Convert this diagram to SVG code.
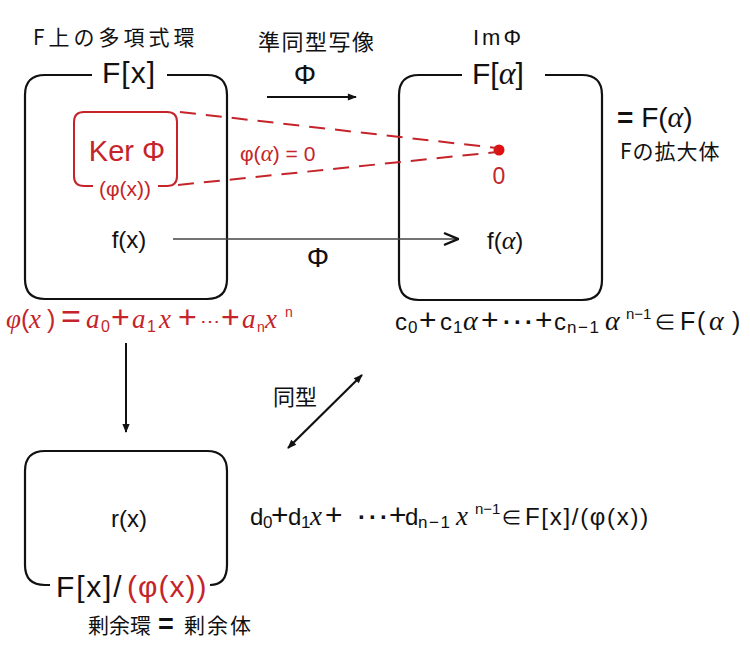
<svg xmlns="http://www.w3.org/2000/svg" width="750" height="650" viewBox="0 0 750 650">
<defs>
<style>
.t{font-family:"Liberation Sans","Noto Sans CJK JP",sans-serif;fill:#111}
.j{font-family:"Noto Sans CJK JP","Noto Sans CJK SC",sans-serif;fill:#111}
.m{font-family:"Liberation Serif","DejaVu Serif",serif;font-style:italic}
.up{font-family:"Liberation Sans",sans-serif;font-style:normal}
.red{fill:#c4242a}
.box{fill:none;stroke:#111;stroke-width:2.2}
.kbox{fill:none;stroke:#c4242a;stroke-width:2}
.dash{stroke:#c4242a;stroke-width:2;stroke-dasharray:16 10;fill:none}
</style>
<marker id="ah" viewBox="0 0 10 10" refX="9" refY="5" markerWidth="10" markerHeight="9" markerUnits="userSpaceOnUse" orient="auto-start-reverse">
<path d="M0,1 L10,5 L0,9 Z" fill="#111"/>
</marker>
<marker id="chev" viewBox="0 0 16 16" refX="15" refY="8" markerWidth="16" markerHeight="16" markerUnits="userSpaceOnUse" orient="auto">
<path d="M1,2 L15,8 L1,14" fill="none" stroke="#111" stroke-width="2.4"/>
</marker>
</defs>
<rect width="750" height="650" fill="#fff"/>

<g id="polyring">
<path class="box" d="M92,75 H45 Q25,75 25,95 V279 Q25,299 45,299 H207 Q227,299 227,279 V95 Q227,75 207,75 H167"/>
<text class="j" x="33" y="45" font-size="21" letter-spacing="4">F上の多項式環</text>
<text class="t" x="129" y="83" font-size="30" letter-spacing="1" text-anchor="middle">F[x]</text>
<text class="t" x="129" y="248" font-size="24" text-anchor="middle">f(x)</text>
<text class="m red" y="328" font-size="27"><tspan x="6">φ</tspan><tspan x="21" class="up" font-size="25">(</tspan><tspan x="29">x</tspan><tspan x="47" class="up" font-size="25">)</tspan><tspan x="61" class="up" font-size="34">=</tspan><tspan x="86">a</tspan><tspan x="101" y="332" class="up" font-size="16">0</tspan><tspan x="111" y="328" class="up" font-size="32">+</tspan><tspan x="132">a</tspan><tspan x="147" y="332" class="up" font-size="16">1</tspan><tspan x="159" y="328">x</tspan><tspan x="178" class="up" font-size="32">+</tspan><tspan x="200" class="up" font-size="20">⋯</tspan><tspan x="221" class="up" font-size="32">+</tspan><tspan x="242">a</tspan><tspan x="257" y="332" class="up" font-size="14">n</tspan><tspan x="265" y="328">x</tspan><tspan x="285" y="317" class="up" font-size="14">n</tspan></text>
</g>

<g id="kernel">
<path class="kbox" d="M93,186 H84 Q74,186 74,176 V122 Q74,112 84,112 H167 Q177,112 177,122 V176 Q177,186 167,186 H158"/>
<text class="t red" x="127" y="161" font-size="29" text-anchor="middle">Ker Φ</text>
<text class="t red" x="125" y="196" font-size="21" text-anchor="middle">(φ(x))</text>
</g>

<g id="image">
<path class="box" d="M462,75 H419 Q399,75 399,95 V280 Q399,300 419,300 H582 Q602,300 602,280 V95 Q602,75 582,75 H545"/>
<text class="t" x="473" y="45" font-size="22" letter-spacing="3">ImΦ</text>
<text class="t" x="472" y="84" font-size="30">F[<tspan class="m" font-size="32">α</tspan>]</text>
<circle cx="499" cy="150" r="5.5" fill="#e01010"/>
<text class="t red" x="499" y="184" font-size="23" text-anchor="middle">0</text>
<text class="t" x="487" y="249" font-size="24">f(<tspan class="m" font-size="26">α</tspan>)</text>
<text class="t" x="617" y="127" font-size="28"><tspan font-weight="bold">=</tspan> F(<tspan class="m" font-size="30">α</tspan>)</text>
<text class="j" x="620" y="159" font-size="21" letter-spacing="1">Fの拡大体</text>
<text class="t" y="330" font-size="24"><tspan x="395">c</tspan><tspan x="408" y="333" font-size="17">0</tspan><tspan x="419" y="330" font-size="30">+</tspan><tspan x="440">c</tspan><tspan x="453" y="333" font-size="17">1</tspan><tspan x="463" y="330" class="m" font-size="28">α</tspan><tspan x="481" font-size="30">+</tspan><tspan x="503" font-weight="bold">·</tspan><tspan x="514" font-weight="bold">·</tspan><tspan x="525" font-weight="bold">·</tspan><tspan x="535" font-size="30">+</tspan><tspan x="554">c</tspan><tspan x="567" y="333" font-size="17" letter-spacing="1.5">n−1</tspan><tspan x="605" y="330" class="m" font-size="28">α</tspan><tspan x="626" y="319" font-size="15">n−1</tspan><tspan x="654" y="330" font-size="22">∈</tspan><tspan x="680" font-size="25">F</tspan><tspan x="697" font-size="25">(</tspan><tspan x="709" class="m" font-size="28">α</tspan><tspan x="732" font-size="25">)</tspan></text>
</g>

<g id="quotient">
<path class="box" d="M50,585 H45 Q25,585 25,565 V471 Q25,451 45,451 H207 Q227,451 227,471 V565 Q227,585 210,585"/>
<text class="t" x="129" y="527" font-size="24" text-anchor="middle">r(x)</text>
<text class="t" x="56" y="597" font-size="30" letter-spacing="1.8">F[x]/</text>
<text class="t red" x="127" y="597" font-size="30" letter-spacing="1">(φ(x))</text>
<text class="j" y="633" font-size="21"><tspan x="88">剰余環</tspan><tspan x="158" class="up" font-weight="bold" font-size="27">=</tspan><tspan x="184" letter-spacing="2">剰余体</tspan></text>
<text class="t" y="525" font-size="24"><tspan x="250">d</tspan><tspan x="263" y="528" font-size="17">0</tspan><tspan x="271" y="525" font-size="30">+</tspan><tspan x="288">d</tspan><tspan x="301" y="528" font-size="17">1</tspan><tspan x="310" y="525" class="m" font-size="27">x</tspan><tspan x="325" font-size="30">+</tspan><tspan x="358" font-weight="bold">·</tspan><tspan x="369" font-weight="bold">·</tspan><tspan x="380" font-weight="bold">·</tspan><tspan x="389" font-size="30">+</tspan><tspan x="405">d</tspan><tspan x="418" y="528" font-size="17" letter-spacing="1.5">n−1</tspan><tspan x="456" y="525" class="m" font-size="27">x</tspan><tspan x="475" y="514" font-size="15">n−1</tspan><tspan x="501" y="525" font-size="21">∈</tspan><tspan x="525" font-size="24" letter-spacing="1.7">F[x]/(φ(x))</tspan></text>
</g>

<g id="connectors">
<line x1="267" y1="97" x2="356" y2="97" stroke="#111" stroke-width="2" marker-end="url(#ah)"/>
<text class="j" x="258" y="50" font-size="22" letter-spacing="1.5">準同型写像</text>
<text class="t" x="305" y="84" font-size="28" text-anchor="middle">Φ</text>
<line x1="173" y1="239" x2="458" y2="239" stroke="#444" stroke-width="1.3" marker-end="url(#chev)"/>
<text class="t" x="318" y="267" font-size="28" text-anchor="middle">Φ</text>
<path class="dash" d="M180,112 L497,148"/>
<path class="dash" d="M178,185 L497,152"/>
<text class="t red" x="240" y="161" font-size="21">φ(<tspan class="m" font-size="23">α</tspan>) = 0</text>
<line x1="126" y1="343" x2="126" y2="432" stroke="#111" stroke-width="2" marker-end="url(#ah)"/>
<line x1="288" y1="448" x2="362" y2="375" stroke="#111" stroke-width="2.2" marker-start="url(#ah)" marker-end="url(#ah)"/>
<text class="j" x="273" y="405" font-size="22">同型</text>
</g>
</svg>
